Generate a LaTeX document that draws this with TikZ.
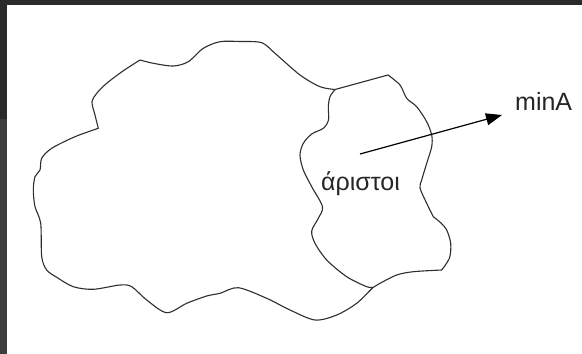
\documentclass[tikz,border=0pt]{standalone}
\usepackage{fontspec}
\setmainfont{Liberation Sans}
\usetikzlibrary{arrows.meta}
\definecolor{frameA}{HTML}{2A2A2A}
\definecolor{frameB}{HTML}{3D3D3D}
\definecolor{inkc}{HTML}{2E2E2E}
\tikzset{
  cloudline/.style={draw=inkc, line width=1.1pt, line join=round},
  arrowline/.style={draw=black, line width=1.2pt, -{Triangle[length=16pt,width=12pt]}},
  lbl/.style={anchor=base west, inner sep=0pt, font=\fontsize{25}{30}\selectfont, text=black!85}
}
\begin{document}
\begin{tikzpicture}[x=1pt,y=-1pt]
\useasboundingbox (0,0) rectangle (582,354);
% frame
\fill[frameB] (0,0) rectangle (582,354);
\fill[frameA] (0,0) rectangle (582,119);
\fill[white] (7,5) rectangle (582,354);
% outer cloud outline
\draw[cloudline]
  plot[smooth, tension=0.5] coordinates {(98.3,128.3) (95,115) (92,102) (97,93) (106.7,83.3) (123,71) (140,60)}
  -- plot[smooth, tension=0.5] coordinates {(140,60) (153.3,63.3) (173.3,66) (188.3,61.7) (203.3,48.3) (220,41.7) (240,41.5) (261.7,42.7) (275,53.3) (300,75) (320,86.7) (335,89.5)}
  -- (388,75)
  -- plot[smooth, tension=0.5] coordinates {(388,75) (400,85) (406.7,98.3) (416.7,106.7) (426.7,121.7) (431.7,135) (431.7,146.7) (426.7,163.3) (421.7,180) (420,188) (426.7,203.3) (433.3,216.7)}
  -- plot[smooth, tension=0.5] coordinates {(433.3,216.7) (441,223) (446.7,230) (450.7,243.3) (449.5,258) (441.7,270)}
  -- plot[smooth, tension=0.5] coordinates {(441.7,270) (413.3,271.7) (396.7,275) (380,283.3) (373.3,287.3) (356.7,303.3) (336.7,315) (315,320) (290,310) (266.7,298.3) (238.3,287.7) (220,293.3) (206.7,296) (186.7,303.3) (166.7,312.7) (146.7,300) (131.7,286.7) (120,285) (93.3,289.3) (73.3,286.7) (56.7,277.3) (46.7,270) (41.7,256.7) (40.7,223.3) (35,206.7) (33.3,190) (35,176.7) (40,170) (41.7,158.3) (51.7,148.3) (75,136.7) (98.3,128.3)}
  -- cycle;
% inner boundary
\draw[cloudline] plot[smooth, tension=0.5] coordinates {(335,89.5) (330,96.7) (328.3,106.7) (328.5,120) (323.3,128.3) (311.7,134) (303.3,143.3) (300,155) (303.3,170) (311.7,186.7) (322.5,206.7) (318.3,218.3) (311.7,231) (315,243.3) (326.7,260) (346.7,276.7) (366.7,286.7) (373.3,287.3)};
% labels
\node[lbl] (aristoi) at (321,190) {άριστοι};
\node[lbl] (minA) at (515,110) {minA};
% arrow
\coordinate (start) at (360,154);
\coordinate (tip) at (502,115);
\draw[arrowline] (start) -- (tip);
\end{tikzpicture}
\end{document}
